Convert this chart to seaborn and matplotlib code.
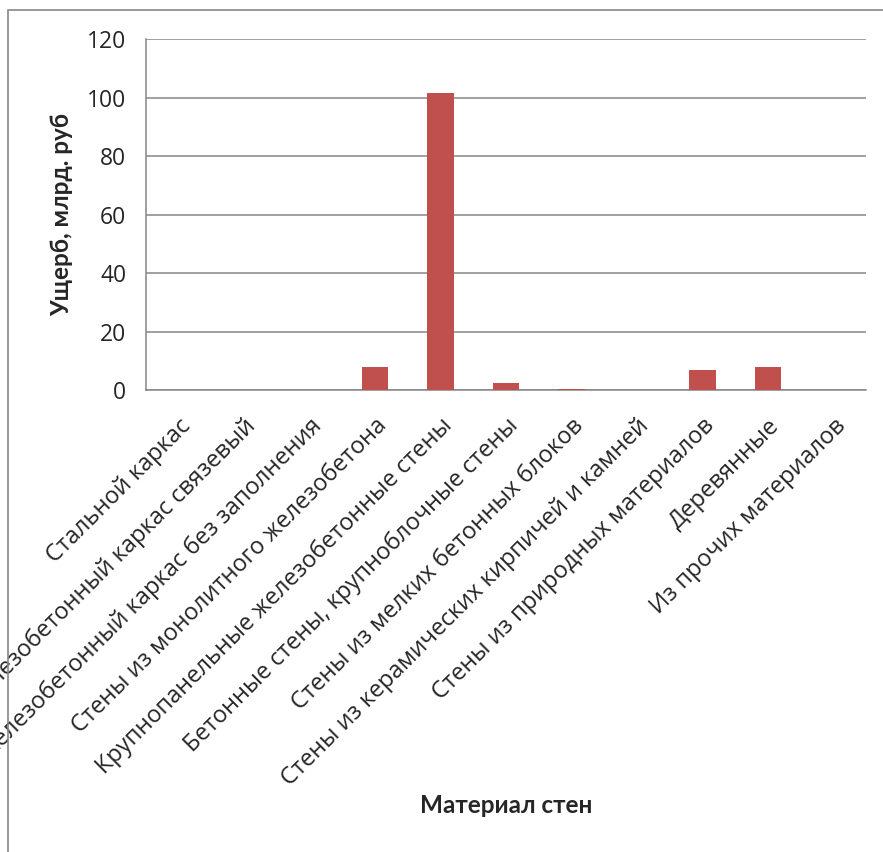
import matplotlib
matplotlib.use("Agg")
import matplotlib.pyplot as plt
import seaborn as sns
import pandas as pd
from matplotlib.patches import Rectangle

categories = [
    "Стальной каркас",
    "Железобетонный каркас связевый",
    "Железобетонный каркас без заполнения",
    "Стены из монолитного железобетона",
    "Крупнопанельные железобетонные стены",
    "Бетонные стены, крупноблочные стены",
    "Стены из мелких бетонных блоков",
    "Стены из керамических кирпичей и камней",
    "Стены из природных материалов",
    "Деревянные",
    "Из прочих материалов",
]
damage = [0, 0, 0, 8.0, 101.5, 2.6, 0.45, 0, 7.0, 8.1, 0]
y_ticks = [0, 20, 40, 60, 80, 100, 120]

data = pd.DataFrame({"material": categories, "damage": damage})

sns.set_style("white")
plt.rcParams["font.family"] = ["Open Sans", "DejaVu Sans"]

fig = plt.figure(figsize=(8.83, 8.52), dpi=100)
ax = fig.add_axes([0.165, 0.542, 0.816, 0.412])

sns.barplot(data=data, x="material", y="damage", color="#C0504D",
            width=0.4, saturation=1, linewidth=0, ax=ax, zorder=3)

grid_col = "#868686"
ax.set_ylim(0, 120)
ax.set_xlim(-0.5, len(categories) - 0.5)
ax.set_yticks(y_ticks)
ax.yaxis.grid(True, color=grid_col, linewidth=1.1, zorder=0)
ax.set_axisbelow(True)

# category boundary ticks like Excel
ax.set_xticks([i - 0.5 for i in range(len(categories) + 1)], minor=True)
ax.set_xticks(range(len(categories)))
ax.set_xticklabels(categories, rotation=45, ha="right", rotation_mode="anchor",
                   fontsize=17)
ax.tick_params(axis="x", which="major", length=0, pad=17)
ax.tick_params(axis="x", which="minor", length=8, width=1.1, color=grid_col)
ax.tick_params(axis="y", length=8, width=1.1, color=grid_col, labelsize=16.5, pad=6)

for s in ["top", "right"]:
    ax.spines[s].set_visible(False)
for s in ["left", "bottom"]:
    ax.spines[s].set_color(grid_col)
    ax.spines[s].set_linewidth(1.1)

ax.set_xlabel("")
ax.set_ylabel("Ущерб, млрд. руб", fontsize=17.5, fontweight="bold",
              family=["Lato", "DejaVu Sans"], labelpad=10)
fig.text(0.573, 0.055, "Материал стен", ha="center", va="center",
         fontsize=17.5, fontweight="bold", family=["Lato", "DejaVu Sans"])

# chart area border (partially cut off)
fig.patches.append(Rectangle((8 / 883, -0.1), 1.2, 1 - 10 / 852 + 0.1,
                             transform=fig.transFigure, fill=False,
                             edgecolor="#888888", linewidth=1.2))

fig.savefig("out.png", dpi=100)
